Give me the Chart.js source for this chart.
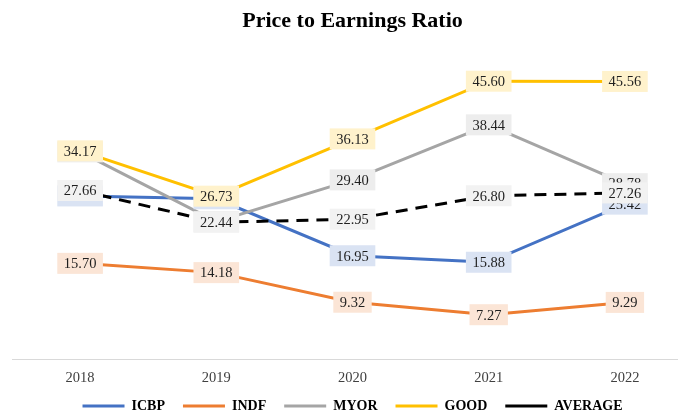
<!DOCTYPE html>
<html>
<head>
<meta charset="utf-8">
<script src="https://cdn.jsdelivr.net/npm/chart.js@4.4.0/dist/chart.umd.min.js"></script>
<style>
  html, body { margin: 0; padding: 0; overflow: hidden; background: #fff; }
  #wrap { position: relative; width: 705px; height: 423px; }
</style>
</head>
<body>
<div id="wrap"><canvas id="peChart" width="705" height="423"></canvas></div>
<script>
// Years on the x axis
const years = ['2018', '2019', '2020', '2021', '2022'];

// P/E values per company (hidden labels estimated from the line positions)
const icbp = [26.77, 26.30, 16.95, 15.88, 25.42];
const indf = [15.70, 14.18, 9.32, 7.27, 9.29];
const myor = [34.00, 22.55, 29.40, 38.44, 28.78];
const good = [34.17, 26.73, 36.13, 45.60, 45.56];
const average = [27.66, 22.44, 22.95, 26.80, 27.26];

const serif = '"Liberation Serif", "Times New Roman", serif';

/**
 * Draws the value boxes on top of all lines, like Excel's data labels
 */
const pointLabels = {
    id: 'pointLabels',
    afterDatasetsDraw(chart) {
        const ctx = chart.ctx;
        ctx.save();
        ctx.font = '14.5px ' + serif;
        ctx.textAlign = 'center';
        ctx.textBaseline = 'middle';
        chart.data.datasets.forEach((ds, i) => {
            const meta = chart.getDatasetMeta(i);
            meta.data.forEach((pt, j) => {
                const txt = ds.data[j].toFixed(2);
                const w = ctx.measureText(txt).width + 13;
                const h = 21;
                ctx.fillStyle = ds.labelFill;
                ctx.fillRect(pt.x - w / 2, pt.y - h / 2, w, h);
                ctx.fillStyle = '#1f1f1f';
                ctx.fillText(txt, pt.x, pt.y + 1);
            });
        });
        ctx.restore();
    }
};

// The x axis box is kept short so the legend sits close; let its labels spill below it
const tallTickArea = {
    id: 'tallTickArea',
    afterLayout(chart) {
        const x = chart.scales.x;
        x.bottom = x.top + 32;
    }
};

function lineSet(label, data, color, fill, order, dash) {
    return {
        label: label,
        data: data,
        borderColor: color,
        backgroundColor: color,
        borderWidth: 3,
        borderDash: dash || [],
        borderCapStyle: dash ? 'butt' : 'round',
        pointRadius: 0,
        tension: 0,
        fill: false,
        order: order,
        labelFill: fill
    };
}

const ctx = document.getElementById('peChart').getContext('2d');
new Chart(ctx, {
    type: 'line',
    data: {
        labels: years,
        datasets: [
            lineSet('ICBP', icbp, '#4472c4', '#dae3f3', 5),
            lineSet('INDF', indf, '#ed7d31', '#fbe5d6', 4),
            lineSet('MYOR', myor, '#a5a5a5', '#ededed', 3),
            lineSet('GOOD', good, '#ffc000', '#fff2cc', 2),
            lineSet('AVERAGE', average, '#000000', '#f2f2f2', 1, [12, 8])
        ]
    },
    options: {
        responsive: false,
        animation: false,
        devicePixelRatio: 1,
        layout: { padding: { left: 12, right: 12, top: 0, bottom: 0 } },
        plugins: {
            title: {
                display: true,
                text: 'Price to Earnings Ratio',
                color: '#000',
                font: { family: serif, size: 22, weight: 'bold' },
                padding: { top: 8, bottom: 20 }
            },
            legend: {
                position: 'bottom',
                labels: {
                    usePointStyle: true,
                    pointStyle: 'line',
                    pointStyleWidth: 42,
                    padding: 18,
                    color: '#000',
                    font: { family: serif, size: 14, weight: 'bold' },
                    sort: (a, b) => a.datasetIndex - b.datasetIndex
                }
            },
            tooltip: { enabled: false }
        },
        scales: {
            x: {
                offset: true,
                grid: { display: false, drawTicks: false },
                border: { display: true, color: '#d9d9d9', width: 1 },
                ticks: { color: '#404040', padding: 10, font: { family: serif, size: 14.5 } },
                afterFit: (scale) => { scale.height = 22; }
            },
            y: { display: false, min: 0, max: 50 }
        }
    },
    plugins: [pointLabels, tallTickArea]
});
</script>
</body>
</html>
